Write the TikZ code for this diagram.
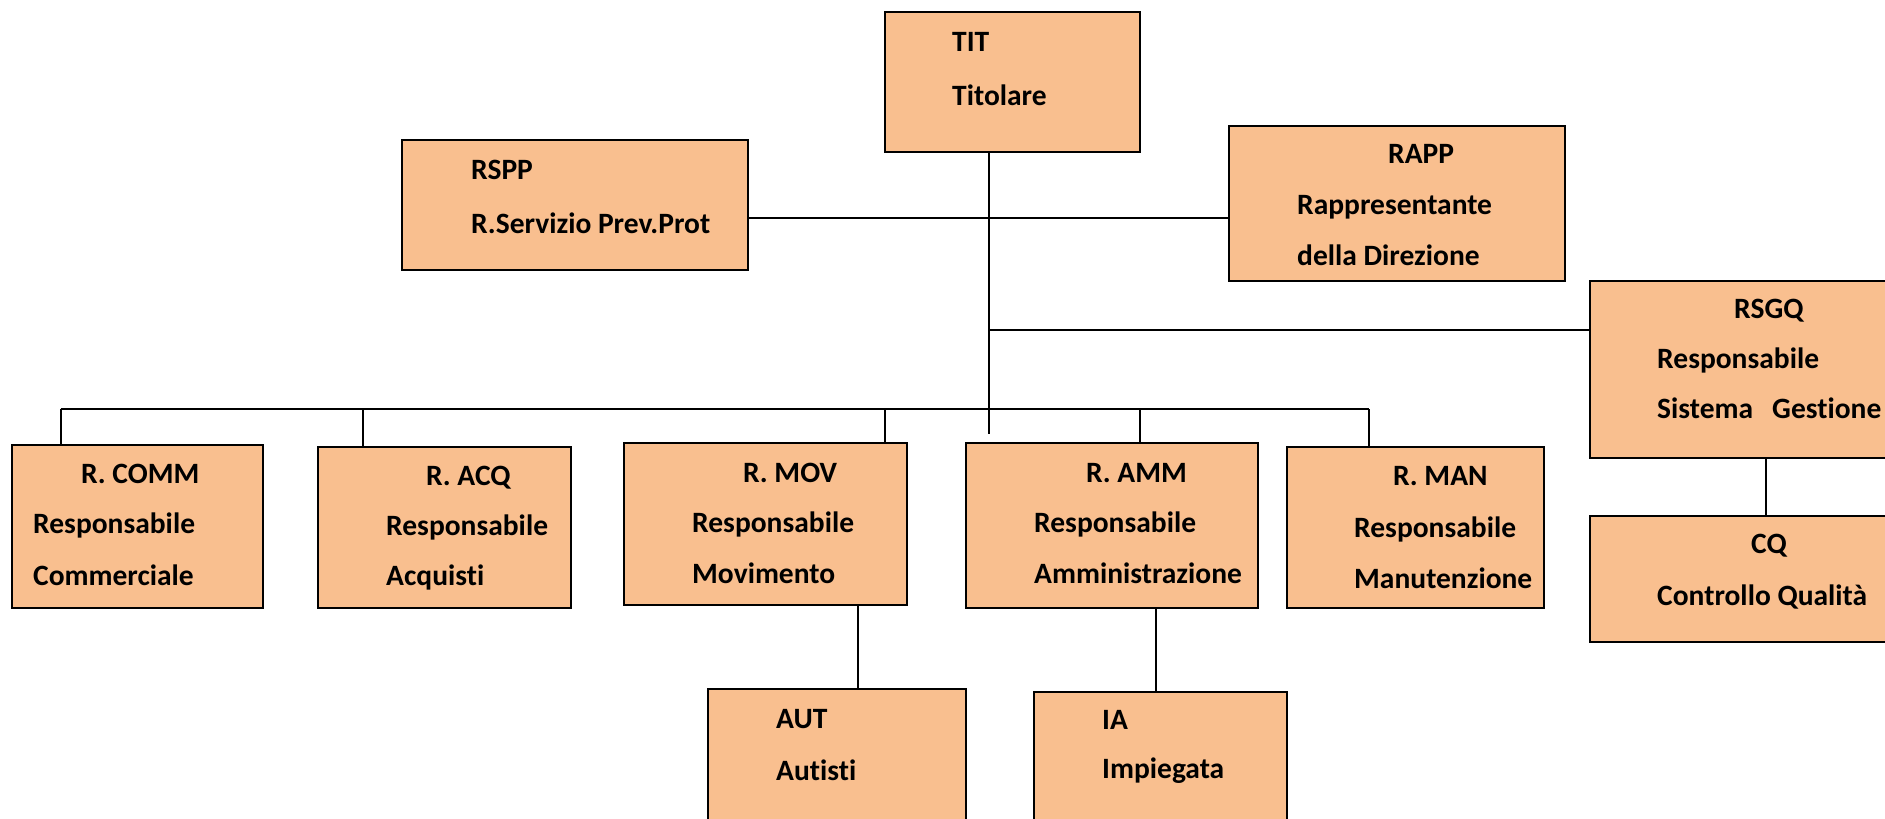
\documentclass[tikz,border=0pt]{standalone}
\usepackage{fontspec}
\setmainfont{Carlito}[Ligatures=NoCommon]
\definecolor{boxfill}{HTML}{F9BF8F}
\tikzset{
  orgbox/.style={draw=black, line width=2.4pt, fill=boxfill, inner sep=0pt, rectangle},
  lbl/.style={anchor=base west, inner sep=0pt, font=\bfseries\fontsize{29.5}{29.5}\selectfont},
  conn/.style={draw=black, line width=2pt}
}
\begin{document}
\begin{tikzpicture}[x=1pt,y=-1pt]
\useasboundingbox (0,0) rectangle (1885,819);
\clip (0,0) rectangle (1885,819);
\fill[white] (0,0) rectangle (1885,819);
% boxes
\node[orgbox, minimum width=255pt, minimum height=140pt] (TIT) at (1012.5,82) {};
\node[orgbox, minimum width=346pt, minimum height=130pt] (RSPP) at (575,205) {};
\node[orgbox, minimum width=336pt, minimum height=155pt] (RAPP) at (1397,203.5) {};
\node[orgbox, minimum width=310pt, minimum height=177pt] (RSGQ) at (1745,369.5) {};
\node[orgbox, minimum width=310pt, minimum height=126pt] (CQ) at (1745,579) {};
\node[orgbox, minimum width=251pt, minimum height=163pt] (RCOMM) at (137.5,526.5) {};
\node[orgbox, minimum width=253pt, minimum height=161pt] (RACQ) at (444.5,527.5) {};
\node[orgbox, minimum width=283pt, minimum height=162pt] (RMOV) at (765.5,524) {};
\node[orgbox, minimum width=292pt, minimum height=165pt] (RAMM) at (1112,525.5) {};
\node[orgbox, minimum width=257pt, minimum height=161pt] (RMAN) at (1415.5,527.5) {};
\node[orgbox, minimum width=258pt, minimum height=151pt] (AUT) at (837,764.5) {};
\node[orgbox, minimum width=253pt, minimum height=148pt] (IA) at (1160.5,766) {};
% connector coordinates
\coordinate (sp) at (988.5,434);
\coordinate (hl) at (988.5,218);
\coordinate (hq) at (988.5,330);
\coordinate (d1) at (60.6,409.3);
\coordinate (d2) at (363,409.3);
\coordinate (d3) at (884.6,409.3);
\coordinate (d4) at (1140,409.3);
\coordinate (d5) at (1369,409.3);
\coordinate (ma) at (858,700);
\coordinate (ia) at (1156,700);
\coordinate (qc) at (1766,500);
% connectors
\draw[conn] (sp |- TIT.south) -- (sp);
\draw[conn] (RSPP.east |- hl) -- (RAPP.west |- hl);
\draw[conn] (hq) -- (RSGQ.west |- hq);
\draw[conn] (d1) -- (d5);
\draw[conn] (d1) -- (d1 |- RCOMM.north);
\draw[conn] (d2) -- (d2 |- RACQ.north);
\draw[conn] (d3) -- (d3 |- RMOV.north);
\draw[conn] (d4) -- (d4 |- RAMM.north);
\draw[conn] (d5) -- (d5 |- RMAN.north);
\draw[conn] (ma |- RMOV.south) -- (ma |- AUT.north);
\draw[conn] (ia |- RAMM.south) -- (ia |- IA.north);
\draw[conn] (qc |- RSGQ.south) -- (qc |- CQ.north);
% labels
\node[lbl] (t1) at (952,51) {TIT};
\node[lbl] (t2) at (952,105) {Titolare};
\node[lbl] (s1) at (471,179) {RSPP};
\node[lbl] (s2) at (471,233) {R.Servizio Prev.Prot};
\node[lbl] (r1) at (1388,163) {RAPP};
\node[lbl] (r2) at (1297,214) {Rappresentante};
\node[lbl] (r3) at (1297,265) {della Direzione};
\node[lbl] (q1) at (1734,318) {RSGQ};
\node[lbl] (q2) at (1657,368) {Responsabile};
\node[lbl] (q3) at (1657,418) {Sistema};
\node[lbl] (q4) at (1772,418) {Gestione};
\node[lbl] (c1) at (81,483) {R. COMM};
\node[lbl] (c2) at (33,533) {Responsabile};
\node[lbl] (c3) at (33,585) {Commerciale};
\node[lbl] (a1) at (426,485) {R. ACQ};
\node[lbl] (a2) at (386,535) {Responsabile};
\node[lbl] (a3) at (386,585) {Acquisti};
\node[lbl] (m1) at (743,482) {R. MOV};
\node[lbl] (m2) at (692,532) {Responsabile};
\node[lbl] (m3) at (692,583) {Movimento};
\node[lbl] (am1) at (1086,482) {R. AMM};
\node[lbl] (am2) at (1034,532) {Responsabile};
\node[lbl] (am3) at (1034,583) {Amministrazione};
\node[lbl] (n1) at (1393,485) {R. MAN};
\node[lbl] (n2) at (1354,537) {Responsabile};
\node[lbl] (n3) at (1354,588) {Manutenzione};
\node[lbl] (k1) at (1751,553) {CQ};
\node[lbl] (k2) at (1657,605) {Controllo Qualità};
\node[lbl] (u1) at (776,728) {AUT};
\node[lbl] (u2) at (776,780) {Autisti};
\node[lbl] (i1) at (1102,729) {IA};
\node[lbl] (i2) at (1102,778) {Impiegata};
\end{tikzpicture}
\end{document}
